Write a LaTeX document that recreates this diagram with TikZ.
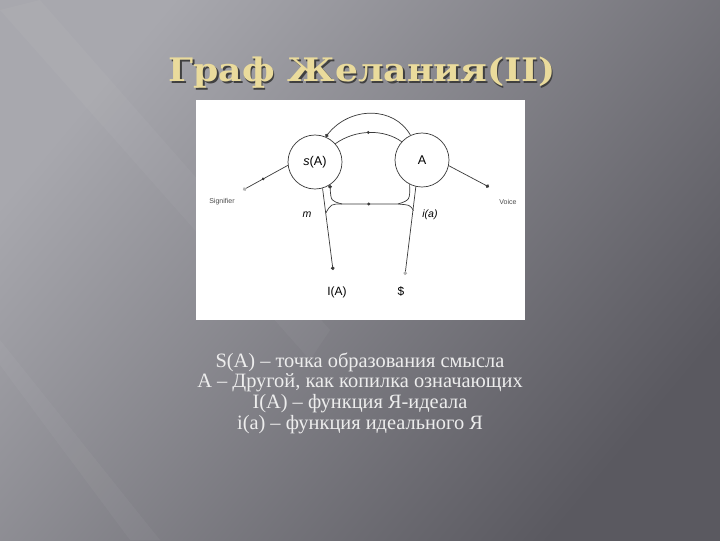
\documentclass[tikz,border=0pt]{standalone}
\usepackage{fontspec}
\setmainfont{Liberation Serif}
\newfontfamily\titlefont[FakeStretch=1.12]{DejaVu Serif}
\newfontfamily\diagfont{Liberation Sans}
\usetikzlibrary{positioning,calc,arrows.meta,decorations.markings}

\definecolor{bgdark}{HTML}{5A5960}
\definecolor{bgmid}{HTML}{727278}
\definecolor{bglight}{HTML}{A8A8AE}
\definecolor{titlegold}{HTML}{EADB9C}
\definecolor{legendgray}{HTML}{EDEDED}
\definecolor{wiregray}{HTML}{3A3A3A}

\begin{document}
\begin{tikzpicture}[x=0.025cm, y=-0.025cm,
    wire/.style={draw=wiregray, line width=0.5pt},
    ball/.style={circle, draw=wiregray, line width=0.5pt, minimum size=1.35cm, inner sep=0pt, font=\diagfont\fontsize{9}{10}\selectfont},
    dotend/.style={-{Circle[length=2.6pt]}},
    greyend/.style={{Circle[length=2.6pt, color=black!30]}-},
    middot/.style={postaction={decorate}, decoration={markings, mark=at position #1 with {\fill[wiregray] (0,0) circle (1.1pt);}}},
    middot/.default=0.5,
    small/.style={font=\diagfont\fontsize{5}{6}\selectfont, text=black!70},
    ital/.style={font=\diagfont\itshape\fontsize{7.5}{8}\selectfont},
    endlabel/.style={font=\diagfont\fontsize{8.5}{10}\selectfont},
    legend/.style={font=\fontsize{14.5}{16}\selectfont, text=legendgray},
    titletext/.style={font=\titlefont\bfseries\fontsize{23}{25}\selectfont}
]
    \useasboundingbox (0,0) rectangle (720,540);

    % background of the slide
    \fill[bgdark] (0,0) rectangle (720,540);
    \shade[shading=axis, top color=bglight, middle color=bgmid, bottom color=bgdark, shading angle=50] (0,0) rectangle (720,540);
    \fill[white, opacity=0.035] (0,10) -- (40,0) -- (330,330) -- (310,360) -- cycle;
    \fill[white, opacity=0.035] (0,340) -- (0,365) -- (130,540) -- (160,540) -- cycle;

    % title
    \node[titletext, text=black!75] at (363.5,74.5) {Граф Желания(II)};
    \node[titletext, text=titlegold] (title) at (362,73) {Граф Желания(II)};

    % white panel with the graph
    \fill[white] (196,100) rectangle (525,320);

    \node[ball] (sA) at (315,162) {\textit{s}(A)};
    \node[ball] (bigA) at (422,160) {A};

    % outer ends
    \coordinate (sigEnd) at (243,190);
    \coordinate (voiceEnd) at (489,187);
    \coordinate (iaEnd) at (333,270);
    \coordinate (barEnd) at (405,275);
    \node[small] (signifier) at (222,202) {Signifier};
    \node[small] (voice) at (508,202) {Voice};
    \node[endlabel] (IA) at (337,292) {I(A)};
    \node[endlabel] (barS) at (401,291) {\$};
    \node[ital] (mlab) at (307,215) {m};
    \node[ital] (ilab) at (430,215) {i(a)};

    % junctions of the lower chain
    \coordinate (jr) at (413.5,210.5);
    \coordinate (jl) at (325.8,213);
    \coordinate (hr) at (398,204);
    \coordinate (hl) at (342,204);

    % upper arcs
    \draw[wire, dotend] (bigA.115) .. controls (394,106) and (350,106) .. (sA.67);
    \draw[wire, middot] (sA.42) .. controls (356,129) and (384,129) .. (bigA.138);

    % signifier and voice
    \draw[wire, greyend, middot=0.45] (sigEnd) -- (sA.187);
    \draw[wire, dotend] (bigA.-12) -- (voiceEnd);

    % descending lines
    \draw[wire, dotend] (sA.-74) -- (iaEnd);
    \draw[wire, greyend] (barEnd) -- (bigA.-103);

    % lower chain
    \draw[wire, middot] (jr) .. controls (410,205) .. (hr) -- (hl) .. controls (331,204) .. (jl);
    \draw[wire, dotend] (hl) .. controls (331,201) .. (sA.-57);
    \draw[wire] (bigA.-117) .. controls (410,200) .. (hr);

    % explanations
    \foreach \y/\txt [count=\i] in {362/{S(A) – точка образования смысла},
                                    383/{А – Другой, как копилка означающих},
                                    404/{I(A) – функция Я-идеала},
                                    425/{i(a) – функция идеального Я}} {
        \node[legend] (line\i) at (360,\y) {\txt};
    }
\end{tikzpicture}
\end{document}
